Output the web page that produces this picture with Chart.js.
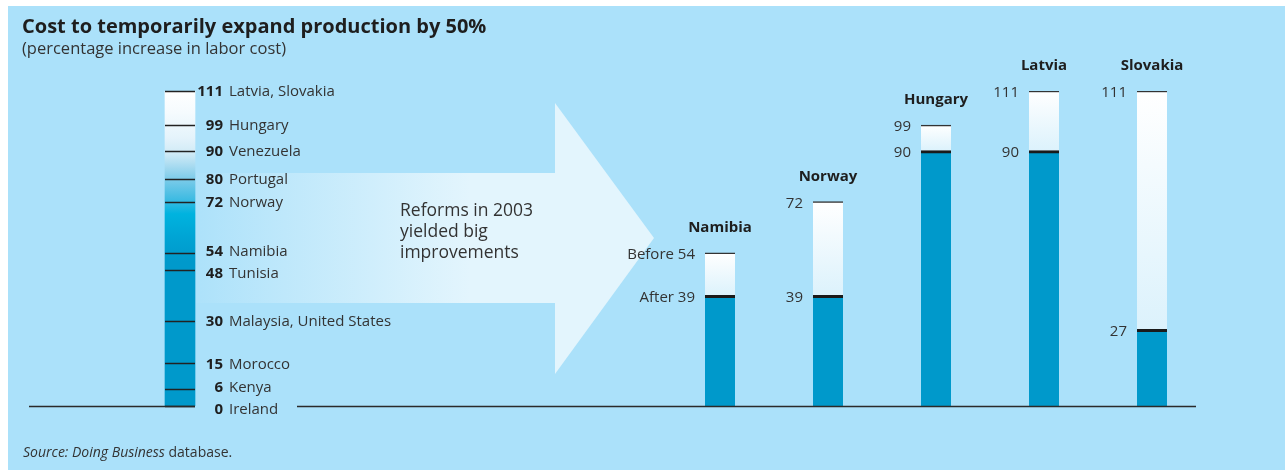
<!DOCTYPE html>
<html>
<head>
<meta charset="utf-8">
<script src="https://cdn.jsdelivr.net/npm/chart.js@4.4.1/dist/chart.umd.min.js"></script>
<style>
html,body{margin:0;padding:0;background:#fff;}
#wrap{width:1285px;height:470px;}
canvas{display:block;}
</style>
</head>
<body>
<div id="wrap"><canvas id="c" width="1285" height="470"></canvas></div>
<script>
// ---- data ----
const scaleValues = [111, 99, 90, 80, 72, 54, 48, 30, 15, 6, 0];
const scaleCountries = ['Latvia, Slovakia', 'Hungary', 'Venezuela', 'Portugal', 'Norway', 'Namibia', 'Tunisia', 'Malaysia, United States', 'Morocco', 'Kenya', 'Ireland'];
const reformCountries = ['Namibia', 'Norway', 'Hungary', 'Latvia', 'Slovakia'];
const beforeValues = [54, 72, 99, 111, 111];
const afterValues = [39, 39, 90, 90, 27];
const scaleMax = 111;
const gapCategories = 4;

const FONT = '"Open Sans", "Liberation Sans", sans-serif';
const BG = '#abe1fa';
const DARK = '#0099cb';

// build library tables from the arrays
const blanks = Array(gapCategories).fill('');
const labels = ['scale', ...blanks, ...reformCountries];
const pad = Array(gapCategories).fill(null);
const scaleData = [scaleMax, ...pad, ...reformCountries.map(() => null)];
const beforeData = [null, ...pad, ...beforeValues];
const afterData = [null, ...pad, ...afterValues];
const offset = 1 + gapCategories;

function beforeGradient(ctx) {
  const chart = ctx.chart;
  const area = chart.chartArea;
  if (!area || ctx.raw == null) return '#ffffff';
  const y = chart.scales.y;
  const i = ctx.dataIndex - offset;
  const yTop = y.getPixelForValue(ctx.raw);
  const yBot = y.getPixelForValue(afterValues[i]);
  const g = chart.ctx.createLinearGradient(0, yTop, 0, yBot);
  g.addColorStop(0, '#ffffff');
  g.addColorStop(1, '#dcf2fc');
  return g;
}

function scaleGradient(ctx) {
  const chart = ctx.chart;
  const area = chart.chartArea;
  if (!area) return DARK;
  const g = chart.ctx.createLinearGradient(0, area.top, 0, area.bottom);
  g.addColorStop(0, '#ffffff');
  g.addColorStop(0.07, '#f5fbfe');
  g.addColorStop(0.15, '#e4f3fb');
  g.addColorStop(0.20, '#cfeaf6');
  g.addColorStop(0.24, '#a6daf0');
  g.addColorStop(0.28, '#7ccbe9');
  g.addColorStop(0.345, '#3dbbe2');
  g.addColorStop(0.39, '#00b3df');
  g.addColorStop(0.47, '#00a3d3');
  g.addColorStop(0.54, DARK);
  g.addColorStop(1, DARK);
  return g;
}

// spread label positions so they don't collide
function spread(ys, minGap) {
  const out = ys.slice();
  for (let pass = 0; pass < 5; pass++) {
    for (let i = 0; i < out.length - 1; i++) {
      const d = out[i + 1] - out[i];
      if (d < minGap) {
        const m = (minGap - d) / 2;
        out[i] -= m;
        out[i + 1] += m;
      }
    }
  }
  return out;
}

const decor = {
  id: 'decor',
  beforeDraw(chart) {
    const c = chart.ctx;
    c.save();
    c.fillStyle = '#ffffff';
    c.fillRect(0, 0, chart.width, chart.height);
    c.fillStyle = BG;
    c.fillRect(8, 6, chart.width - 8, chart.height - 6);

    // arrow
    const grad = c.createLinearGradient(200, 0, 470, 0);
    grad.addColorStop(0, 'rgba(227,245,253,0.05)');
    grad.addColorStop(1, 'rgba(227,245,253,1)');
    c.fillStyle = grad;
    c.fillRect(196, 173, 359, 130);
    c.fillStyle = '#e3f5fd';
    c.beginPath();
    c.moveTo(555, 103);
    c.lineTo(654, 238);
    c.lineTo(555, 374);
    c.closePath();
    c.fill();

    // arrow text
    c.fillStyle = '#333';
    c.font = '17.5px ' + FONT;
    c.textAlign = 'left';
    c.textBaseline = 'middle';
    c.fillText('Reforms in 2003', 400, 211);
    c.fillText('yielded big', 400, 232);
    c.fillText('improvements', 400, 253);

    // title
    c.fillStyle = '#1e1e1e';
    c.font = 'bold 20px ' + FONT;
    c.fillText('Cost to temporarily expand production by 50%', 22, 27);
    c.fillStyle = '#333';
    c.font = '16.5px ' + FONT;
    c.fillText('(percentage increase in labor cost)', 22, 49);

    // source
    c.font = 'italic 14px ' + FONT;
    const s1 = 'Source: Doing Business';
    c.fillText(s1, 23, 453);
    const w1 = c.measureText(s1).width;
    c.font = '14px ' + FONT;
    c.fillText(' database.', 23 + w1, 453);
    c.restore();
  },
  afterDatasetsDraw(chart) {
    const c = chart.ctx;
    const y = chart.scales.y;
    const x = chart.scales.x;
    const half = 15;
    c.save();
    // left scale ticks and labels
    const cx = x.getPixelForValue(0);
    const tickY = scaleValues.map(v => y.getPixelForValue(v));
    const labY = spread(tickY, 22);
    c.strokeStyle = '#222';
    c.lineWidth = 1.5;
    scaleValues.forEach((v, i) => {
      const py = Math.round(tickY[i]) + 0.5;
      c.beginPath();
      c.moveTo(cx - half, py);
      c.lineTo(cx + half, py);
      c.stroke();
      c.textBaseline = 'middle';
      c.fillStyle = '#1e1e1e';
      c.font = 'bold 15px ' + FONT;
      c.textAlign = 'right';
      c.fillText(String(v), cx + half + 28, labY[i] + 1);
      c.fillStyle = '#333';
      c.font = '15px ' + FONT;
      c.textAlign = 'left';
      c.fillText(scaleCountries[i], cx + half + 34, labY[i] + 1);
    });

    // baseline
    const y0 = Math.round(y.getPixelForValue(0)) + 0.5;
    c.strokeStyle = '#2a2a2a';
    c.lineWidth = 1.6;
    c.beginPath();
    c.moveTo(29, y0); c.lineTo(cx + half, y0);
    c.moveTo(297, y0); c.lineTo(1196, y0);
    c.stroke();

    // right labels
    reformCountries.forEach((name, i) => {
      const bx = x.getPixelForValue(i + offset);
      const yb = y.getPixelForValue(beforeValues[i]);
      const ya = y.getPixelForValue(afterValues[i]);
      c.fillStyle = '#1e1e1e';
      c.font = 'bold 15px ' + FONT;
      c.textAlign = 'center';
      c.textBaseline = 'middle';
      c.fillText(name, bx, yb - 25);
      c.fillStyle = '#333';
      c.font = '15px ' + FONT;
      c.textAlign = 'right';
      const pb = i === 0 ? 'Before ' : '';
      const pa = i === 0 ? 'After ' : '';
      c.fillText(pb + beforeValues[i], bx - half - 10, yb + 2);
      c.fillText(pa + afterValues[i], bx - half - 10, ya + 2);
    });
    c.restore();
  }
};

new Chart(document.getElementById('c'), {
  type: 'bar',
  data: {
    labels: labels,
    datasets: [
      {
        label: 'After',
        data: afterData,
        backgroundColor: DARK,
        borderColor: '#1a1a1a',
        borderWidth: {top: 3, left: 0, right: 0, bottom: 0},
        borderSkipped: false,
        grouped: false,
        barThickness: 30,
        order: 0
      },
      {
        label: 'Before',
        data: beforeData,
        backgroundColor: beforeGradient,
        borderColor: '#333333',
        borderWidth: {top: 1.5, left: 0, right: 0, bottom: 0},
        borderSkipped: false,
        grouped: false,
        barThickness: 30,
        order: 1
      },
      {
        label: 'Scale',
        data: scaleData,
        backgroundColor: scaleGradient,
        borderWidth: 0,
        grouped: false,
        barThickness: 30,
        order: 2
      }
    ]
  },
  options: {
    responsive: false,
    animation: false,
    devicePixelRatio: 1,
    layout: {padding: {left: 126, right: 79, top: 91, bottom: 64}},
    plugins: {legend: {display: false}, tooltip: {enabled: false}, title: {display: false}},
    scales: {
      x: {display: false, offset: true},
      y: {display: false, min: 0, max: scaleMax}
    }
  },
  plugins: [decor]
});
</script>
</body>
</html>
